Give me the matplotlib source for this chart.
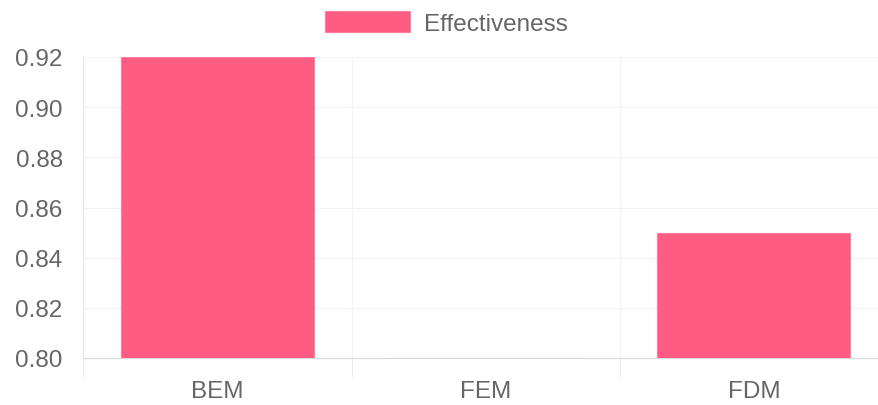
import numpy as np
import matplotlib.pyplot as plt

# effectiveness per method
methods = ['BEM', 'FEM', 'FDM']
effectiveness = [0.92, 0.80, 0.85]
yticks = [0.80, 0.82, 0.84, 0.86, 0.88, 0.90, 0.92]

plt.rcParams['font.family'] = ['Liberation Sans', 'DejaVu Sans']
fs = 17.5

W, H = 879, 406
fig = plt.figure(figsize=(W / 100, H / 100), dpi=100)
# plot area in pixels: left 83.5, right ~888 (runs past the edge), top 58, bottom 359
ax = fig.add_axes([83.5 / W, (H - 359) / H, (888 - 83.5) / W, (359 - 58) / H])

x = np.arange(len(methods))
bars = ax.bar(x, effectiveness, width=0.72, color='#ff5c84',
              edgecolor='#ff7c9c', linewidth=0.8, label='Effectiveness', zorder=3)

ax.set_ylim(0.80, 0.92)
ax.set_xlim(-0.5, 2.5)
ax.set_yticks(yticks)
ax.set_yticklabels(['%.2f' % v for v in yticks])
ax.set_xticks(x)
ax.set_xticklabels(methods)
ax.set_xticks([-0.5, 0.5, 1.5], minor=True)

ax.tick_params(axis='y', length=0, pad=15, labelsize=fs, labelcolor='#666666')
ax.tick_params(axis='x', which='major', length=0, pad=16, labelsize=fs, labelcolor='#666666')
ax.tick_params(axis='x', which='minor', length=13.5, width=0.8, color='#ececec')

ax.grid(True, axis='y', color='#f3f3f3', linewidth=0.8, zorder=0)
ax.grid(True, axis='x', which='minor', color='#f3f3f3', linewidth=0.8, zorder=0)

for s in ['top', 'right']:
    ax.spines[s].set_visible(False)
ax.spines['left'].set_color('#e6e6e6')
ax.spines['bottom'].set_color('#d9d9d9')
ax.spines['left'].set_linewidth(0.8)
ax.spines['bottom'].set_linewidth(0.8)

leg = fig.legend(loc='center', bbox_to_anchor=(446.5 / W, 1 - 24 / H), frameon=False,
                 fontsize=fs, handlelength=3.5, handleheight=0.95, handletextpad=0.58,
                 borderpad=0, labelcolor='#666666')

fig.savefig('out.png', dpi=100)
